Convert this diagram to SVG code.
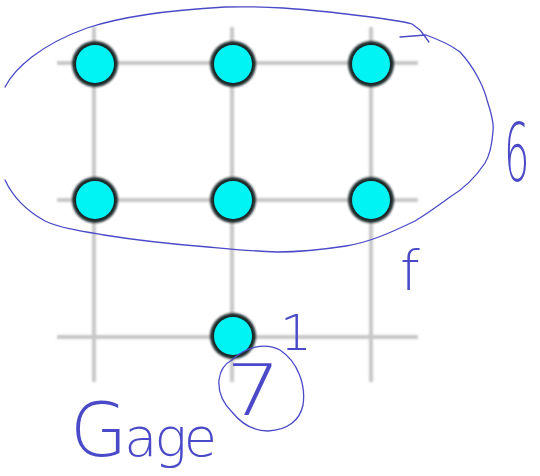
<svg xmlns="http://www.w3.org/2000/svg" width="540" height="476" viewBox="0 0 540 476">
<defs>
<filter id="soft" x="-20%" y="-20%" width="140%" height="140%"><feGaussianBlur stdDeviation="1"/></filter>
<style>
.grid{stroke:#c8c8c8;stroke-width:4;fill:none}
.halo{fill:#1e2a2a;filter:url(#soft)}
.dot{fill:#00f4f4}
.ink{fill:none;stroke:#4a4ac8;stroke-width:1.3;stroke-linecap:round;stroke-linejoin:round}
.hand{fill:#4a4ac8;font-family:"DejaVu Sans",sans-serif;font-weight:200}
</style>
</defs>
<rect width="540" height="476" fill="#ffffff"/>
<g id="connectors" filter="url(#soft)">
<line class="grid" x1="94" y1="27" x2="94" y2="382"/>
<line class="grid" x1="232" y1="27" x2="232" y2="382"/>
<line class="grid" x1="371" y1="27" x2="371" y2="382"/>
<line class="grid" x1="57" y1="63" x2="418" y2="63"/>
<line class="grid" x1="57" y1="200" x2="418" y2="200"/>
<line class="grid" x1="57" y1="337" x2="418" y2="337"/>
</g>
<g id="n1"><circle class="halo" cx="95" cy="64" r="23"/><circle class="dot" cx="95" cy="64" r="19"/></g>
<g id="n2"><circle class="halo" cx="233" cy="64" r="23"/><circle class="dot" cx="233" cy="64" r="19"/></g>
<g id="n3"><circle class="halo" cx="371" cy="64" r="23"/><circle class="dot" cx="371" cy="64" r="19"/></g>
<g id="n4"><circle class="halo" cx="95" cy="200" r="23"/><circle class="dot" cx="95" cy="200" r="19"/></g>
<g id="n5"><circle class="halo" cx="233" cy="200" r="23"/><circle class="dot" cx="233" cy="200" r="19"/></g>
<g id="n6"><circle class="halo" cx="371" cy="200" r="23"/><circle class="dot" cx="371" cy="200" r="19"/></g>
<g id="n7"><circle class="halo" cx="233" cy="336" r="23"/><circle class="dot" cx="233" cy="336" r="19"/></g>
<g id="annotations">
<path class="ink" d="M5,87 C15,68 40,45 87,28 C120,17 170,10 225,7 C270,6 300,9 329,12 C360,16 395,19 412,24 L420,30 L429,42"/>
<path class="ink" d="M400,37 L426,35 C440,40 452,46 460,52 C475,68 484,88 487,100 C492,115 494,125 493,131 C492,145 490,155 485,163 C475,178 465,188 450,197 C435,208 425,215 415,221 C390,233 370,242 346,246 C320,250 300,252 277,252 C250,251 230,249 208,247 C170,244 135,240 104,235 C80,231 60,228 45,221 C25,210 12,195 5,180"/>
<path class="ink" d="M232,360 C245,347 265,342 280,350 C298,362 306,385 303,405 C300,420 288,430 268,431 C252,431 240,422 232,412 C222,402 218,392 219,380 C220,372 224,364 232,360"/>
<text class="hand" x="0" y="0" font-size="72" transform="translate(226,415) scale(1.2,1)">7</text>
<text class="hand" x="0" y="0" font-size="80" transform="translate(504,181) scale(0.5,1)">6</text>
<text class="hand" x="400" y="290" font-size="56">f</text>
<text class="hand" x="280" y="350" font-size="50">1</text>
<text class="hand" x="70" y="456" font-size="54" letter-spacing="-3"><tspan font-size="74">G</tspan>age</text>
</g>
</svg>
